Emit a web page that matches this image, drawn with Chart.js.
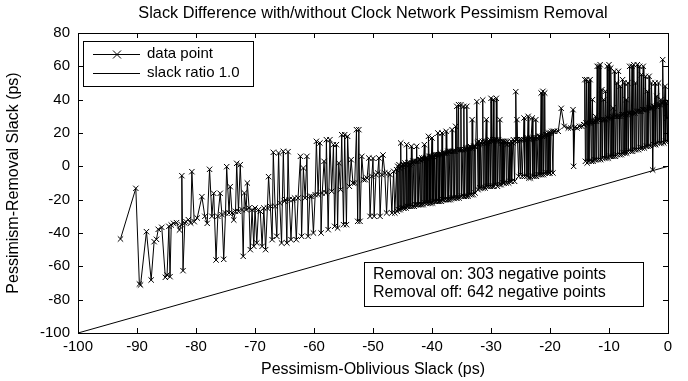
<!DOCTYPE html>
<html>
<head>
<meta charset="utf-8">
<script src="https://cdn.jsdelivr.net/npm/chart.js@4.4.1/dist/chart.umd.min.js"></script>
<style>
  html, body { margin:0; padding:0; background:#fff; }
  #wrap { width:688px; height:381px; position:relative; }
</style>
</head>
<body>
<div id="wrap"><canvas id="slackChart" width="688" height="381"></canvas></div>
<script>
// slack without pessimism removal (x), slack with removal (y)
const slackOff = [
  -92.8,-90.2,-89.6,-89.4,-88.4,-87.6,-87.1,-86.7,-86.4,-85.8,-85.2,-84.9,-84.6,-84.4,-84.2,-83.8,-83.3,-82.8,-82.5,-82.4,-82.2,-81.9,-81.7,
  -81.3,-80.9,-80.7,-80.3,-79.8,-79.0,-78.5,-78.1,-77.7,-77.3,-77.0,-76.6,-76.3,-75.9,-75.6,-75.3,-75.0,-74.8,-74.4,-74.2,-73.9,-73.6,-73.3,-73.1,-72.8,-72.5,-72.2,-72.0,-71.8,-71.5,-71.3,-71.0,-70.8,-70.5,-70.2,-70.0,-69.7,-69.4,-69.1,-68.8,-68.5,-68.2,-67.9,-67.7,-67.4,-67.1,-66.9,-66.6,-66.3,-66.0,-65.8,-65.5,-65.2,-65.0,-64.8,-64.6,
  -64.4,-64.2,-63.9,-63.6,-63.3,-63.0,-62.7,-62.3,-62.1,-61.8,-61.5,-61.2,-61.0,-60.7,-60.4,-60.1,-59.8,-59.6,-59.3,-59.0,-58.8,-58.6,-58.3,-58.0,-57.9,-57.6,-57.3,-57.0,-56.7,-56.5,-56.2,-56.0,-55.8,-55.5,-55.3,-55.0,-54.8,-54.5,-54.3,-54.0,-53.7,-53.4,-53.1,-52.8,-52.6,-52.4,-52.2,-51.9,-51.6,-51.3,-51.0,-50.7,-50.5,-50.2,-50.0,-49.8,-49.5,-49.2,-49.0,-48.8,-48.5,-48.3,-48.0,-47.7,-47.4,-47.1,-46.8,-46.5,-46.3,
  -46.0,-45.9,-45.8,-45.7,-45.6,-45.5,-45.4,-45.3,-45.2,-45.1,
  -45.0,-44.9,-44.8,-44.7,-44.6,-44.5,-44.4,-44.3,-44.2,-44.1,
  -44.0,-43.9,-43.8,-43.7,-43.6,-43.5,-43.4,-43.3,-43.2,-43.1,
  -43.0,-42.9,-42.8,-42.7,-42.6,-42.5,-42.4,-42.3,-42.2,-42.1,
  -42.0,-41.9,-41.8,-41.7,-41.6,-41.5,-41.4,-41.3,-41.2,-41.1,
  -41.0,-40.9,-40.8,-40.7,-40.6,-40.5,-40.4,-40.3,-40.2,-40.1,
  -40.0,-39.9,-39.8,-39.7,-39.6,-39.5,-39.4,-39.3,-39.2,-39.1,
  -39.0,-38.9,-38.8,-38.7,-38.6,-38.5,-38.4,-38.3,-38.2,-38.1,
  -38.0,-37.9,-37.8,-37.7,-37.6,-37.5,-37.4,-37.3,-37.2,-37.1,
  -37.0,-36.9,-36.8,-36.7,-36.6,-36.5,-36.4,-36.3,-36.2,-36.1,
  -36.0,-35.9,-35.8,-35.7,-35.6,-35.5,-35.4,-35.3,-35.2,-35.1,
  -35.0,-34.9,-34.8,-34.7,-34.6,-34.5,-34.4,-34.3,-34.2,-34.1,
  -34.0,-33.9,-33.8,-33.7,-33.6,-33.5,-33.4,-33.3,-33.2,-33.1,
  -33.0,-32.9,-32.8,-32.7,-32.6,
  -32.4,-32.3,-32.2,-32.1,-32.0,-31.9,-31.8,-31.7,-31.6,-31.5,
  -31.4,-31.3,-31.2,-31.1,-31.0,-30.9,-30.8,-30.7,-30.6,-30.5,
  -30.4,-30.3,-30.2,-30.1,-30.0,-29.9,-29.8,-29.7,-29.6,-29.5,
  -29.4,-29.3,-29.2,-29.1,-29.0,-28.9,-28.8,-28.7,-28.6,-28.5,
  -28.4,-28.3,-28.2,-28.1,-28.0,-27.9,-27.8,-27.6,-27.5,-27.4,
  -27.3,-27.2,-27.0,-26.9,-26.8,-26.6,-26.5,-26.3,-26.2,-26.0,
  -25.9,-25.8,-25.7,-25.6,-25.5,-25.3,-25.2,-25.0,-24.9,-24.8,
  -24.7,-24.5,-24.4,-24.3,-24.2,-24.0,-23.9,-23.8,-23.7,-23.6,
  -23.5,-23.4,-23.3,-23.2,-23.0,-22.9,-22.8,-22.7,-22.6,-22.5,
  -22.4,-22.3,-22.2,-22.0,-21.9,-21.8,-21.7,-21.6,-21.5,-21.4,
  -21.3,-21.2,-21.1,-21.0,-20.9,-20.8,-20.7,-20.6,-20.5,-20.4,
  -20.3,-20.2,-20.1,-20.0,-19.9,-19.7,-19.5,-19.4,-19.2,
  -18.6,-18.1,-17.6,-16.9,-16.5,-16.1,-16.0,-15.8,-15.4,-15.0,-14.6,-14.3,
  -14.2,-14.1,-14.0,-13.9,-13.8,-13.7,-13.6,-13.5,-13.4,-13.3,
  -13.2,-13.1,-13.0,-12.9,-12.8,-12.7,-12.6,-12.5,-12.4,-12.3,
  -12.2,-12.1,-12.0,-11.9,-11.8,-11.7,-11.6,-11.5,-11.4,-11.3,
  -11.2,-11.1,-11.0,-10.9,-10.8,-10.7,-10.6,-10.5,-10.4,-10.3,
  -10.2,-10.1,-10.0,-9.9,-9.8,-9.7,-9.6,-9.5,-9.4,-9.3,
  -9.2,-9.1,-9.0,-8.9,-8.8,-8.7,-8.6,-8.5,-8.4,-8.3,
  -8.2,-8.1,-8.0,-7.9,-7.8,-7.7,-7.6,-7.5,-7.4,-7.3,
  -7.2,-7.1,-7.0,-6.9,-6.8,-6.7,-6.6,-6.5,-6.4,-6.3,
  -6.2,-6.1,-6.0,-5.9,-5.8,-5.7,-5.6,-5.5,-5.4,-5.3,
  -5.2,-5.1,-5.0,-4.9,-4.8,-4.7,-4.6,-4.5,-4.4,-4.3,
  -4.2,-4.1,-4.0,-3.9,-3.8,-3.7,-3.6,-3.5,-3.4,-3.3,
  -3.2,-3.1,-3.0,-2.9,-2.8,-2.7,-2.6,-2.5,-2.4,-2.3,
  -2.2,-2.1,-2.0,-1.9,-1.8,-1.7,-1.6,-1.5,-1.4,-1.3,
  -1.2,-1.1,-1.0,-0.9,-0.8,-0.7,-0.6,-0.5,-0.4,-0.3,
  -0.2,-0.1,0
];
const slackOn = [
  -43.6,-13.2,-70.6,-71.2,-39.2,-68.2,-45.2,-43.8,-37.8,-36.6,-66.6,-65.2,-36,-66.2,-35.2,-34.2,-33.8,-38.2,-35,-5.6,-62.6,-34,-33.2,
  -32,-34,-3.2,-33.2,-31,-18.2,-30,-34.2,-1.8,-30,-16.2,-56.2,-30,-16.2,-29,-55.8,-28,-0.2,-28,-12.2,-28,-32.2,-27,1.8,-27,1,-26,-54,-16,-26,-10,-25,-50,-26,-48,-25,-46,-26,-27,-48,-25,-50,-25,-6.2,-24,-44,8.4,-24,-42,8,-22,-46,9,-21,-20,-46,
  8.8,-20,-44,-20,-19,-44,-19,6,-42,-1,-19,6,-42,-18,-18,-40,-17,15,-17,14,-40,-16,3,-16,16,-38,16,-15,13,-36,13,-37,2,-14,19,-35,19,-35,18,-12,4,-10,-10,22,-33,22,-33,6,-8,-8,-7,5,-30,-6,4.8,-30,-5,-4,5,-30,-5,6.8,-4,-28,-4,-5,-28,-3,-28,
  -2,-27,0,-26,1,-1,-26,14,-25,0,
  1,-25,1,-25,2,1,-25,13,-24,2,
  2,-24,1,2,-24,12,2,-24,3,3,
  -24,3,-23,3,12,-23,3,-23,4,4,
  -23,4,-23,5,4,-23,5,13,-22,5,
  5,-22,5,-22,18,6,-22,6,-22,6,
  17,-22,6,-21,7,7,-21,7,-21,7,
  20,-21,7,-21,8,7,-21,20,-20,8,
  -20,8,8,-20,21,8,-20,9,-20,9,
  9,-20,9,-19,22,9,-19,9,-19,9,
  24,-19,36,-19,10,37,-19,10,10,37,
  -18,10,10,-18,36,-18,10,11,-18,36,
  11,-18,11,11,-17,12,11,-17,28,11,
  -17,12,12,-16,12,
  38.8,14,-14,15,13,-13,14,14,-13,15,
  39.8,-13,14,15,-13,15,28,-12,14,15,
  -12,15,16,-12,40.8,15,-12,16,40,-12,
  16,16,-11,40.8,16,-12,15,16,-11,28,
  15,-11,14,15,-10,15,-10,15,14,-10,
  13,15,-10,14,-9,15,-9,14,16,-9,
  15,44.8,16,28,15,-6,16,-5,16,16,
  -6,16,29,-6,16,17,-6,17,30,-7,
  16,17,-7,17,29,-6,17,17,-6,17,
  28,-6,17,-5,18,18,-5,18,44,-5,
  18,45,-5,18,44,-4,19,19,-4,19,
  20,-4,20,-4,20,21,-4,21,21,
  21,34.8,24,23,23,34,0,23.4,23,24,24,25,
  25,52,3,26,52,2,26,51,3,26,
  52,26,3,27,40,3,27,4,27,30,
  4,27,60,28,4,60,28,61,4,28,
  46,5,28,40,28,5,45,28,5,60,
  29,5,61,29,6,59,29,6,30,35,
  6,57,30,6,30,50,7,30,57,30,
  7,48,30,7,31,52,8,31,50,8,
  31,40,8,31,50,9,32,60,32,9,
  32,60,9,32,61,10,32,50,10,33,
  61,33,10,33,60,11,33,55,11,34,
  60,34,11,34,54,12,34,45,12,35,
  54,35,12,35,50,35,-2.2,36,13,36,
  50,13,36,42,14,37,50,37,14,37,
  40,14,38,64,38,14,38,48,15,38,
  29,15,38.8
];
// slack ratio 1.0 reference line
const ratioX = [-100, 0];
const ratioY = [-100, 0];

const xTicks = [-100,-90,-80,-70,-60,-50,-40,-30,-20,-10,0];
const yTicks = [-100,-80,-60,-40,-20,0,20,40,60,80];

const FONT = 'Liberation Sans, Arial, Helvetica, sans-serif';

const points = slackOff.map((x, i) => ({x, y: slackOn[i]}));
const ratioPts = ratioX.map((x, i) => ({x, y: ratioY[i]}));

// MATLAB-ish frame, inner ticks, title, legend and note box
const decor = {
  id: 'decor',
  afterDraw(chart){
    const {ctx, chartArea:a, scales:{x, y}} = chart;
    ctx.save();
    ctx.strokeStyle = '#000';
    ctx.lineWidth = 1;
    ctx.strokeRect(a.left + .5, a.top + .5, a.right - a.left, a.bottom - a.top);
    ctx.beginPath();
    xTicks.forEach(v => {
      const px = Math.round(x.getPixelForValue(v)) + .5;
      ctx.moveTo(px, a.bottom); ctx.lineTo(px, a.bottom - 5);
      ctx.moveTo(px, a.top); ctx.lineTo(px, a.top + 5);
    });
    yTicks.forEach(v => {
      const py = Math.round(y.getPixelForValue(v)) + .5;
      ctx.moveTo(a.left, py); ctx.lineTo(a.left + 5, py);
      ctx.moveTo(a.right, py); ctx.lineTo(a.right - 5, py);
    });
    ctx.stroke();

    // title
    ctx.fillStyle = '#000';
    ctx.font = '16.3px ' + FONT;
    ctx.textAlign = 'center';
    ctx.textBaseline = 'middle';
    ctx.fillText('Slack Difference with/without Clock Network Pessimism Removal', (a.left + a.right) / 2, 14);

    // legend
    ctx.fillStyle = '#fff';
    ctx.fillRect(83.5, 41.5, 170, 45);
    ctx.strokeRect(83.5, 41.5, 170, 45);
    ctx.beginPath();
    ctx.moveTo(93, 54.5); ctx.lineTo(140, 54.5);
    ctx.moveTo(93, 73.5); ctx.lineTo(140, 73.5);
    ctx.moveTo(113, 50.5); ctx.lineTo(121, 58.5);
    ctx.moveTo(121, 50.5); ctx.lineTo(113, 58.5);
    ctx.stroke();
    ctx.fillStyle = '#000';
    ctx.font = '15px ' + FONT;
    ctx.textAlign = 'left';
    ctx.fillText('data point', 147, 54);
    ctx.fillText('slack ratio 1.0', 147, 73);

    // note box
    ctx.fillStyle = '#fff';
    ctx.fillRect(364.5, 262.5, 279, 44);
    ctx.strokeRect(364.5, 262.5, 279, 44);
    ctx.fillStyle = '#000';
    ctx.font = '16px ' + FONT;
    ctx.fillText('Removal on: 303 negative points', 373, 275);
    ctx.fillText('Removal off: 642 negative points', 373, 293);
    ctx.restore();
  }
};

new Chart(document.getElementById('slackChart'), {
  type: 'scatter',
  data: {
    datasets: [
      {
        label: 'slack ratio 1.0',
        data: ratioPts,
        showLine: true,
        borderColor: '#000',
        borderWidth: 1,
        pointRadius: 0,
        order: 2
      },
      {
        label: 'data point',
        data: points,
        showLine: true,
        borderColor: '#000',
        borderWidth: 1,
        pointStyle: 'crossRot',
        pointRadius: 3.8,
        pointBorderWidth: 1,
        pointBorderColor: '#000',
        order: 1
      }
    ]
  },
  options: {
    responsive: false,
    animation: false,
    layout: { padding: { left: 0, right: 20, top: 33, bottom: 0 } },
    plugins: { legend: { display:false }, tooltip: { enabled:false } },
    scales: {
      x: {
        type: 'linear', min: -100, max: 0,
        afterFit: s => { s.height = 48; },
        afterBuildTicks: s => { s.ticks = xTicks.map(v => ({value: v})); },
        grid: { display:false, drawTicks:false },
        border: { display:false },
        ticks: { color:'#000', font:{ family: FONT, size: 15 }, padding: 5, maxRotation: 0 },
        title: { display:true, text:'Pessimism-Oblivious Slack (ps)', color:'#000', font:{ family: FONT, size: 16 }, padding: { top: 0, bottom: 2 } }
      },
      y: {
        type: 'linear', min: -100, max: 80,
        afterFit: s => { s.width = 78; },
        afterBuildTicks: s => { s.ticks = yTicks.map(v => ({value: v})); },
        grid: { display:false, drawTicks:false },
        border: { display:false },
        ticks: { color:'#000', font:{ family: FONT, size: 15 }, padding: 8 },
        title: { display:true, text:'Pessimism-Removal Slack (ps)', color:'#000', font:{ family: FONT, size: 16 }, padding: { top: 4, bottom: 0 } }
      }
    }
  },
  plugins: [decor]
});
</script>
</body>
</html>
